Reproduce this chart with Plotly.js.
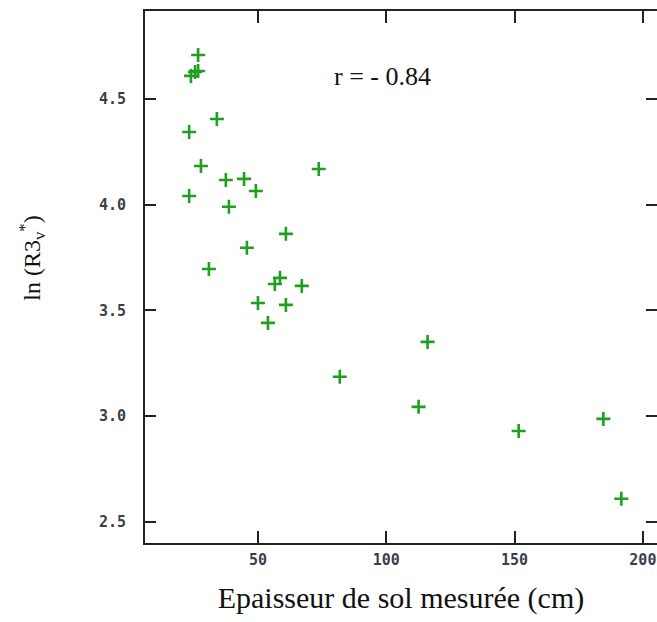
<!DOCTYPE html>
<html>
<head>
<meta charset="utf-8">
<script src="https://cdn.plot.ly/plotly-3.0.1.min.js"></script>
<style>html,body{margin:0;padding:0;background:#fff;}#chart{width:657px;height:622px;}</style>
</head>
<body>
<div id="chart"></div>
<script>
// Soil thickness (cm) vs ln(R3v*)
var thickness = [26.7, 25.5, 23.9, 26.7, 34.0, 23.2, 27.8, 73.7, 37.5, 44.6, 49.2, 23.2, 38.7, 60.9, 45.7, 30.9, 58.6, 56.6, 67.1, 50.0, 60.9, 53.9, 116.1, 81.9, 112.6, 151.6, 184.6, 191.6];
var lnR3 = [4.708, 4.628, 4.609, 4.632, 4.405, 4.344, 4.183, 4.169, 4.117, 4.122, 4.065, 4.041, 3.990, 3.862, 3.796, 3.696, 3.654, 3.625, 3.616, 3.535, 3.526, 3.441, 3.351, 3.186, 3.044, 2.930, 2.987, 2.609];
var xTicks = [50, 100, 150, 200];
var yTicks = [2.5, 3.0, 3.5, 4.0, 4.5];
var corrLabel = 'r = - 0.84';
var yTitle = 'ln (R3<sub>v</sub><sup>*</sup>)';
var xTitle = 'Epaisseur de sol mesurée (cm)';

var trace = {
  x: thickness, y: lnR3, type: 'scatter', mode: 'markers',
  marker: {symbol: 'cross-thin', size: 10, color: '#1f9e1f', line: {color: '#1f9e1f', width: 2.6}},
  hoverinfo: 'x+y'
};

var tickFont = {family: 'DejaVu Sans Mono', size: 15, color: '#3a3f48', weight: 'bold'};
var layout = {
  width: 657, height: 622,
  margin: {l: 145, r: 0, t: 11, b: 79},
  paper_bgcolor: '#fff', plot_bgcolor: '#fff',
  showlegend: false,
  xaxis: {
    range: [6.0, 205.5], tickvals: xTicks, ticktext: xTicks.map(String),
    ticks: 'inside', ticklen: 12, tickwidth: 2, tickcolor: '#222',
    showline: true, linewidth: 2, linecolor: '#222', mirror: 'ticks',
    showgrid: false, zeroline: false, tickfont: tickFont, ticklabelstandoff: 2,
    title: {text: xTitle, font: {family: 'Liberation Serif', size: 30, color: '#111'}, standoff: 19}
  },
  yaxis: {
    range: [2.40, 4.916], tickvals: yTicks, ticktext: yTicks.map(function(v){return v.toFixed(1);}),
    ticks: 'inside', ticklen: 11, tickwidth: 2, tickcolor: '#222',
    showline: true, linewidth: 2, linecolor: '#222', mirror: 'ticks',
    showgrid: false, zeroline: false, tickfont: tickFont, ticklabelstandoff: 14
  },
  annotations: [{
    text: corrLabel, xref: 'paper', yref: 'paper', x: 0.365, y: 0.877,
    xanchor: 'left', yanchor: 'middle', showarrow: false,
    font: {family: 'Liberation Serif', size: 26, color: '#111'}
  }, {
    text: yTitle, xref: 'paper', yref: 'paper', x: -0.221, y: 0.536,
    xanchor: 'center', yanchor: 'middle', textangle: -90, showarrow: false,
    font: {family: 'Liberation Serif', size: 24, color: '#111'}
  }]
};

Plotly.newPlot('chart', [trace], layout, {displayModeBar: false, staticPlot: true});
</script>
</body>
</html>
